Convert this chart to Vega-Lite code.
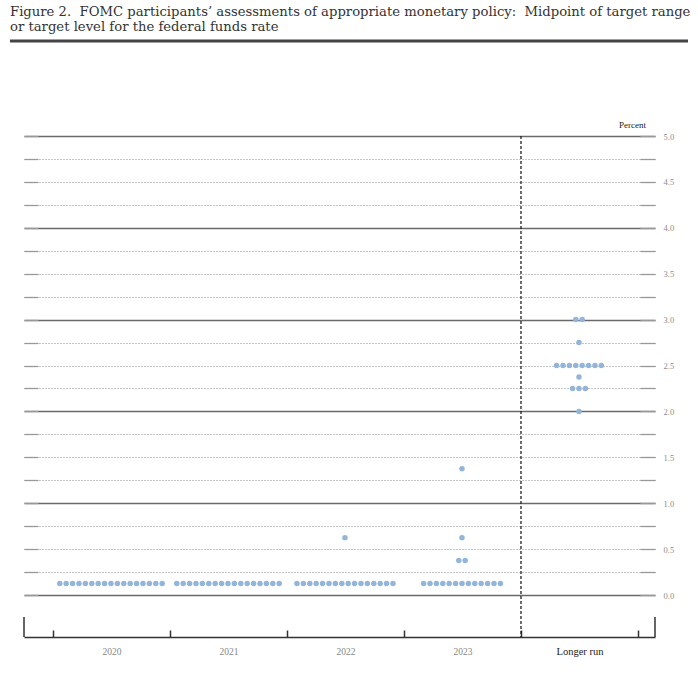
{
  "$schema": "https://vega.github.io/schema/vega-lite/v6.json",
  "width": 631,
  "height": 501,
  "autosize": {"type": "none"},
  "padding": {"left": 24, "top": 136, "right": 43, "bottom": 40},
  "background": "white",
  "title": {
    "text": ["Figure 2.\u00a0 FOMC participants’ assessments of appropriate monetary policy:\u00a0 Midpoint of target range", "or target level for the federal funds rate"],
    "anchor": "start",
    "frame": "group",
    "dx": -14,
    "offset": 5,
    "font": "DejaVu Serif",
    "fontSize": 13.2,
    "fontWeight": "normal",
    "color": "#333",
    "lineHeight": 15.5
  },
  "config": {"view": {"stroke": null}},
  "data": {"values": [{}]},
  "layer": [
    {
      "mark": {"type": "rule", "color": "#333", "strokeWidth": 1.5},
      "encoding": {
        "x": {"datum": 0, "type": "quantitative", "scale": {"domain": [0, 1]}, "axis": null},
        "y": {"datum": -0.4575, "type": "quantitative", "scale": {"domain": [-0.4575, 5], "nice": false, "zero": false},
          "axis": {"orient": "right", "values": [0,0.25,0.5,0.75,1,1.25,1.5,1.75,2,2.25,2.5,2.75,3,3.25,3.5,3.75,4,4.25,4.5,4.75,5],
            "grid": false, "domain": false, "ticks": true, "tickSize": -15, "tickColor": "#999", "tickWidth": 1.3,
            "labelExpr": "datum.value % 0.5 === 0 ? format(datum.value, '.1f') : ''",
            "labelFont": "Liberation Serif", "labelFontSize": 8.5, "labelColor": "#8c8c8c", "labelPadding": 23,
            "labelOverlap": false, "labelFlush": false,
            "title": "Percent", "titleAngle": 0, "titleX": -23, "titleY": -7, "titleAlign": "center", "titleBaseline": "bottom",
            "titleFont": "Liberation Serif", "titleFontSize": 9, "titleFontWeight": "normal", "titleColor": "#222"}},
        "y2": {"datum": -0.24}
      }
    },
    {
      "mark": {"type": "rule", "color": "#333", "strokeWidth": 1.5},
      "encoding": {
        "x": {"datum": 1, "type": "quantitative", "scale": {"domain": [0, 1]}, "axis": null},
        "y": {"datum": -0.4575, "type": "quantitative", "scale": {"domain": [-0.4575, 5], "nice": false, "zero": false}, "axis": null},
        "y2": {"datum": -0.24}
      }
    },
    {
      "mark": {"type": "rule", "color": "#444", "strokeWidth": 3},
      "encoding": {
        "x": {"datum": -0.0222, "type": "quantitative", "scale": {"domain": [0, 1]}, "axis": null},
        "x2": {"datum": 1.0523},
        "y": {"datum": 6.035, "type": "quantitative", "scale": {"domain": [-0.4575, 5], "nice": false, "zero": false}, "axis": null}
      }
    },
    {
      "mark": {"type": "rule", "color": "#222", "strokeWidth": 1.3, "strokeDash": [3, 2]},
      "encoding": {
        "x": {"datum": "Longer run", "type": "nominal", "bandPosition": 0,
          "scale": {"type": "band", "domain": ["2020", "2021", "2022", "2023", "Longer run"], "paddingInner": 0, "paddingOuter": 0.1966, "align": 0.63},
          "axis": null}
      }
    },
    {
      "data": {"values": [
        {"period": "2020", "rate": 0.125}, {"period": "2020", "rate": 0.125}, {"period": "2020", "rate": 0.125}, {"period": "2020", "rate": 0.125},
        {"period": "2020", "rate": 0.125}, {"period": "2020", "rate": 0.125}, {"period": "2020", "rate": 0.125}, {"period": "2020", "rate": 0.125},
        {"period": "2020", "rate": 0.125}, {"period": "2020", "rate": 0.125}, {"period": "2020", "rate": 0.125}, {"period": "2020", "rate": 0.125},
        {"period": "2020", "rate": 0.125}, {"period": "2020", "rate": 0.125}, {"period": "2020", "rate": 0.125}, {"period": "2020", "rate": 0.125},
        {"period": "2020", "rate": 0.125},
        {"period": "2021", "rate": 0.125}, {"period": "2021", "rate": 0.125}, {"period": "2021", "rate": 0.125}, {"period": "2021", "rate": 0.125},
        {"period": "2021", "rate": 0.125}, {"period": "2021", "rate": 0.125}, {"period": "2021", "rate": 0.125}, {"period": "2021", "rate": 0.125},
        {"period": "2021", "rate": 0.125}, {"period": "2021", "rate": 0.125}, {"period": "2021", "rate": 0.125}, {"period": "2021", "rate": 0.125},
        {"period": "2021", "rate": 0.125}, {"period": "2021", "rate": 0.125}, {"period": "2021", "rate": 0.125}, {"period": "2021", "rate": 0.125},
        {"period": "2021", "rate": 0.125},
        {"period": "2022", "rate": 0.125}, {"period": "2022", "rate": 0.125}, {"period": "2022", "rate": 0.125}, {"period": "2022", "rate": 0.125},
        {"period": "2022", "rate": 0.125}, {"period": "2022", "rate": 0.125}, {"period": "2022", "rate": 0.125}, {"period": "2022", "rate": 0.125},
        {"period": "2022", "rate": 0.125}, {"period": "2022", "rate": 0.125}, {"period": "2022", "rate": 0.125}, {"period": "2022", "rate": 0.125},
        {"period": "2022", "rate": 0.125}, {"period": "2022", "rate": 0.125}, {"period": "2022", "rate": 0.125}, {"period": "2022", "rate": 0.125},
        {"period": "2022", "rate": 0.625},
        {"period": "2023", "rate": 0.125}, {"period": "2023", "rate": 0.125}, {"period": "2023", "rate": 0.125}, {"period": "2023", "rate": 0.125},
        {"period": "2023", "rate": 0.125}, {"period": "2023", "rate": 0.125}, {"period": "2023", "rate": 0.125}, {"period": "2023", "rate": 0.125},
        {"period": "2023", "rate": 0.125}, {"period": "2023", "rate": 0.125}, {"period": "2023", "rate": 0.125}, {"period": "2023", "rate": 0.125},
        {"period": "2023", "rate": 0.125},
        {"period": "2023", "rate": 0.375}, {"period": "2023", "rate": 0.375},
        {"period": "2023", "rate": 0.625},
        {"period": "2023", "rate": 1.375},
        {"period": "Longer run", "rate": 2.0},
        {"period": "Longer run", "rate": 2.25}, {"period": "Longer run", "rate": 2.25}, {"period": "Longer run", "rate": 2.25},
        {"period": "Longer run", "rate": 2.375},
        {"period": "Longer run", "rate": 2.5}, {"period": "Longer run", "rate": 2.5}, {"period": "Longer run", "rate": 2.5}, {"period": "Longer run", "rate": 2.5},
        {"period": "Longer run", "rate": 2.5}, {"period": "Longer run", "rate": 2.5}, {"period": "Longer run", "rate": 2.5}, {"period": "Longer run", "rate": 2.5},
        {"period": "Longer run", "rate": 2.75},
        {"period": "Longer run", "rate": 3.0}, {"period": "Longer run", "rate": 3.0}
      ]},
      "transform": [
        {"window": [{"op": "row_number", "as": "k"}, {"op": "count", "as": "n"}], "groupby": ["period", "rate"], "frame": [null, null]},
        {"calculate": "datum.k - (datum.n + 1) / 2", "as": "off"}
      ],
      "mark": {"type": "circle", "size": 30, "color": "#93b5da", "opacity": 1},
      "encoding": {
        "x": {"field": "period", "type": "nominal",
          "scale": {"type": "band", "domain": ["2020", "2021", "2022", "2023", "Longer run"], "paddingInner": 0, "paddingOuter": 0.1966, "align": 0.63},
          "axis": {"orient": "bottom", "title": null, "labelAngle": 0, "domain": true, "domainColor": "#333", "domainWidth": 1.5,
            "ticks": true, "tickBand": "extent", "tickSize": -7, "tickColor": "#333", "tickWidth": 1.5, "grid": false,
            "labelFont": "Liberation Serif",
            "labelFontSize": {"condition": {"test": "datum.value === 'Longer run'", "value": 10.5}, "value": 9.5},
            "labelColor": {"condition": {"test": "datum.value === 'Longer run'", "value": "#222"}, "value": "#888"},
            "labelPadding": 16}},
        "xOffset": {"field": "off", "type": "quantitative", "scale": {"domain": [-9.14, 9.14], "range": [-0.5, 116.5]}},
        "y": {"field": "rate", "type": "quantitative", "scale": {"domain": [-0.4575, 5], "nice": false, "zero": false},
          "axis": {"orient": "left", "values": [0,0.25,0.5,0.75,1,1.25,1.5,1.75,2,2.25,2.5,2.75,3,3.25,3.5,3.75,4,4.25,4.5,4.75,5],
            "grid": true,
            "gridColor": {"condition": {"test": "datum.value % 1 === 0", "value": "#6a6a6a"}, "value": "#8a8a8a"},
            "gridDash": {"condition": {"test": "datum.value % 1 === 0", "value": []}, "value": [1, 2]},
            "gridWidth": {"condition": {"test": "datum.value % 1 === 0", "value": 1.5}, "value": 1},
            "domain": false, "labels": false, "ticks": true, "tickSize": -14, "tickColor": "#999", "tickWidth": 1.3, "title": null}}
      }
    }
  ],
  "resolve": {"scale": {"x": "independent"}, "axis": {"x": "independent", "y": "independent"}}
}
